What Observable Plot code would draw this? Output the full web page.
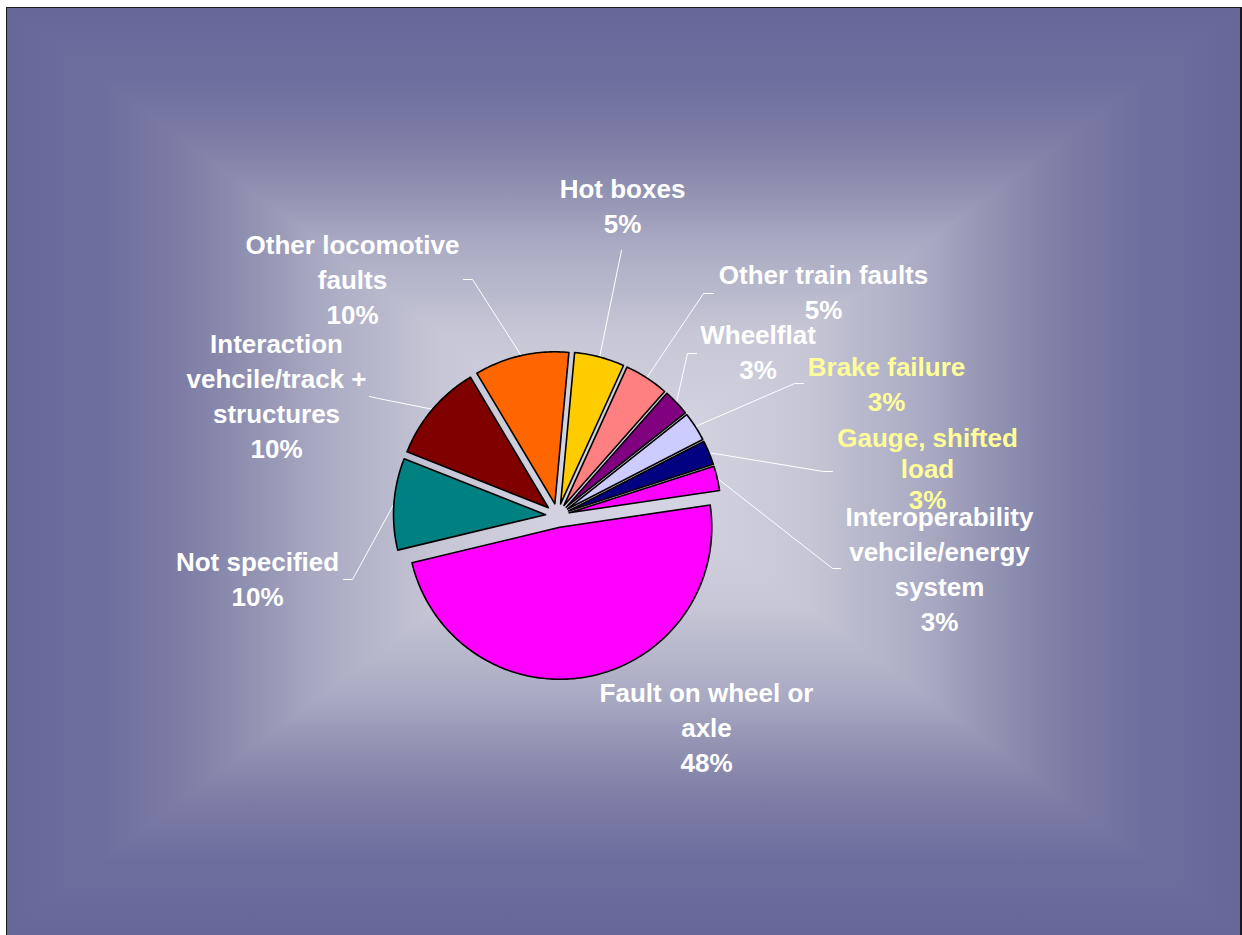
<!DOCTYPE html>
<html>
<head>
<meta charset="utf-8">
<script src="https://cdn.jsdelivr.net/npm/d3@7"></script>
<script src="https://cdn.jsdelivr.net/npm/@observablehq/plot@0.6"></script>
<style>
  html, body { margin: 0; padding: 0; background: #ffffff; }
  #wrap { position: relative; width: 1242px; height: 935px; overflow: hidden; background: #ffffff; }
  #bgbase { position: absolute; left: 7px; top: 8px; width: 1233px; height: 930px; background: #67679a; }
  #bg { position: absolute; left: 7px; top: 8px; width: 1233px; height: 923px; }
  #bg div { position: absolute; left: 0; top: 0; width: 100%; height: 100%; }
  #frame { position: absolute; left: 6px; top: 7px; width: 1236px; height: 950px; box-sizing: border-box;
           border-left: 1.5px solid #1a1a1a; border-top: 1.5px solid #1a1a1a; border-right: 2px solid #1a1a1a; }
  #chart { position: absolute; left: 0; top: 0; }
</style>
</head>
<body>
<div id="wrap">
  <div id="bgbase"></div>
  <div id="bg">
    <div id="tLeft"></div><div id="tRight"></div><div id="tTop"></div><div id="tBottom"></div>
  </div>
  <div id="frame"></div>
  <div id="chart"></div>
</div>
<script>
// ---------------- data ----------------
const names = [
  "Hot boxes",
  "Other train faults",
  "Wheelflat",
  "Brake failure",
  "Gauge, shifted load",
  "Interoperability vehcile/energy system",
  "Fault on wheel or axle",
  "Not specified",
  "Interaction vehcile/track + structures",
  "Other locomotive faults"
];
const values = [5.3, 4.7, 2.8, 3.1, 2.6, 2.6, 48.4, 9.7, 10.4, 10.0];
const percentLabels = ["5%", "5%", "3%", "3%", "3%", "3%", "48%", "10%", "10%", "10%"];
const labelLines = [
  ["Hot boxes"],
  ["Other train faults"],
  ["Wheelflat"],
  ["Brake failure"],
  ["Gauge, shifted", "load"],
  ["Interoperability", "vehcile/energy", "system"],
  ["Fault on wheel or", "axle"],
  ["Not specified"],
  ["Interaction", "vehcile/track +", "structures"],
  ["Other locomotive", "faults"]
];
const sliceColors = ["#FFCC00", "#FF8080", "#800080", "#CCCCFF", "#000080", "#FF00FF", "#FF00FF", "#008080", "#800000", "#FF6600"];

// ---------------- layout (pixels of the 1242x935 picture) ----------------
const W = 1242, H = 935;
const CX = 557, CY = 515, R = 152, EXPLODE = 12, START_DEG = 5.3;
const FONT = 26, LINE = 35, TEXT_DY = -3;
const labelLayout = [
  { x: 622,   y: 206.5, color: "#FFFFFF", lh: LINE, lead: [[621, 250]] },
  { x: 823,   y: 292.5, color: "#FFFFFF", lh: LINE, lead: [[713, 293], [703, 293]] },
  { x: 757.5, y: 352.5, color: "#FFFFFF", lh: LINE, lead: [[696, 353], [687, 353]] },
  { x: 886,   y: 385,   color: "#FFFF99", lh: LINE, lead: [[803, 383], [794, 383]] },
  { x: 927,   y: 471,   color: "#FFFF99", lh: 31,   lead: [[832, 471], [823, 471]] },
  { x: 939,   y: 569.5, color: "#FFFFFF", lh: LINE, lead: [[840, 568], [832, 568]] },
  { x: 706,   y: 728.5, color: "#FFFFFF", lh: LINE, lead: [] },
  { x: 257,   y: 580,   color: "#FFFFFF", lh: LINE, lead: [[343, 579], [352, 579]] },
  { x: 276,   y: 397,   color: "#FFFFFF", lh: LINE, lead: [[369, 396], [378, 398]] },
  { x: 352,   y: 280,   color: "#FFFFFF", lh: LINE, lead: [[463, 279], [472, 279]] }
];

// ---------------- background: rectangular "from centre" gradient ----------------
const stops = [[0, "#67679a"], [7.5, "#6e6e9e"], [14, "#7c7ca6"], [20, "#9292b2"], [25, "#a8a8c2"], [35, "#c6c6d6"], [50, "#d8d8e5"], [100, "#d8d8e5"]];
const mirrored = (dir) => {
  const s = stops.filter(([p]) => p <= 50).map(([p, c]) => `${c} ${p}%`)
    .concat(stops.filter(([p]) => p < 50).reverse().map(([p, c]) => `${c} ${100 - p}%`));
  return `linear-gradient(${dir}, ${s.join(", ")})`;
};
// left/right band covers the whole box (no clip), top/bottom triangles are laid over it
const bgLayers = {
  tLeft:   [null, mirrored("to right")],
  tRight:  [null, "none"],
  tTop:    ["polygon(-1% -1%, 101% -1%, 50% 50%)", mirrored("to bottom")],
  tBottom: ["polygon(-1% 101%, 101% 101%, 50% 50%)", mirrored("to top")]
};
for (const [id, [clip, bg]] of Object.entries(bgLayers)) {
  const el = document.getElementById(id);
  if (clip) el.style.clipPath = clip;
  el.style.background = bg;
}

// ---------------- geometry in pie units (radius = 1, y up) ----------------
const total = d3.sum(values);
const rad = (deg) => deg * Math.PI / 180;
const d = EXPLODE / R;
const slices = [];
let acc = START_DEG;
values.forEach((v, i) => {
  const span = v / total * 360;
  const a0 = acc, a1 = acc + span, m = (a0 + a1) / 2;
  acc = a1;
  slices.push({ i, name: names[i], a0, a1, m, ax: d * Math.sin(rad(m)), ay: d * Math.cos(rad(m)) });
});

const sliceRows = [];
for (const s of slices) {
  sliceRows.push({ name: s.name, x: s.ax, y: s.ay });
  const n = Math.max(4, Math.ceil((s.a1 - s.a0) / 1));
  for (let k = 0; k <= n; k++) {
    const a = rad(s.a0 + (s.a1 - s.a0) * k / n);
    sliceRows.push({ name: s.name, x: s.ax + Math.sin(a), y: s.ay + Math.cos(a) });
  }
  sliceRows.push({ name: s.name, x: s.ax, y: s.ay });
}

const ux = (px) => (px - CX) / R;
const uy = (py) => (CY - py) / R;

const leaderRows = [];
labelLayout.forEach((L, i) => {
  if (!L.lead.length) return;
  const s = slices[i];
  L.lead.forEach(([px, py]) => leaderRows.push({ key: i, x: ux(px), y: uy(py) }));
  leaderRows.push({ key: i, x: s.ax + Math.sin(rad(s.m)), y: s.ay + Math.cos(rad(s.m)) });
});

const labelRows = labelLayout.map((L, i) => ({
  x: ux(L.x), y: uy(L.y + TEXT_DY), lh: L.lh, color: L.color,
  text: [...labelLines[i], percentLabels[i]].join("\n")
}));

const textOpts = {
  x: "x", y: "y", text: "text", fill: "color",
  fontSize: FONT, fontWeight: "bold", fontFamily: "Arial, 'Liberation Sans', Helvetica, sans-serif",
  textAnchor: "middle", lineAnchor: "middle"
};
const textMarks = labelRows.map((row) => Plot.text([row], { ...textOpts, lineHeight: row.lh / FONT }));

const chart = Plot.plot({
  width: W, height: H,
  margin: 0,
  style: { background: "transparent", overflow: "visible" },
  x: { domain: [ux(0), ux(W)], range: [0, W], axis: null },
  y: { domain: [uy(H), uy(0)], range: [H, 0], axis: null },
  color: { type: "ordinal", domain: names, range: sliceColors },
  marks: [
    Plot.line(leaderRows, { x: "x", y: "y", z: "key", stroke: "#FFFFFF", strokeWidth: 1, curve: "linear" }),
    Plot.line(sliceRows, { x: "x", y: "y", z: "name", fill: "name", stroke: "#000000", strokeWidth: 1.6, strokeLinejoin: "round", curve: "linear" }),
    ...textMarks
  ]
});
document.getElementById("chart").appendChild(chart);
</script>
</body>
</html>
